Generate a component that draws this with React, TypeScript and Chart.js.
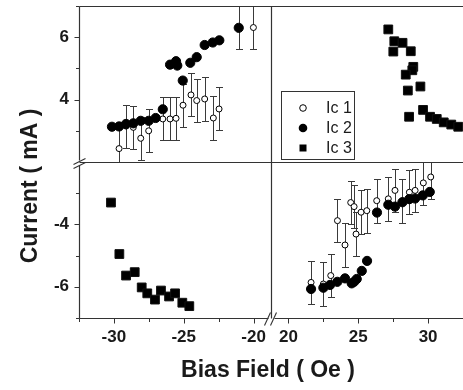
import { useEffect, useRef } from 'react';
import { Chart, registerables } from 'chart.js';

Chart.register(...registerables);

// ---------- data ----------
// Ic 1 (open circles), negative field / positive current
const ic1NegX = [-29.63, -29.13, -28.61, -28.08, -27.51, -26.5, -25.98, -25.55, -25.05, -24.48, -24.07, -23.5, -22.88, -22.47, -20.01];
const ic1PosY = [2.43, 3.15, 3.11, 2.76, 3.0, 3.38, 3.38, 3.4, 3.82, 4.15, 3.97, 4.02, 3.41, 3.7, 6.31];
const ic1NegErr = [0.69, 0.69, 0.69, 0.69, 0.69, 0.69, 0.69, 0.69, 0.69, 0.69, 0.69, 0.69, 0.69, 0.69, 0.69];
// Ic 1, positive field / negative current
const ic1PosX = [21.62, 22.5, 23.03, 23.51, 24.05, 24.46, 24.7, 24.84, 25.2, 25.61, 26.32, 27.15, 27.63, 28.16, 28.66, 29.07, 29.66, 30.19];
const ic1NegY = [-5.86, -5.91, -5.64, -3.88, -4.66, -3.3, -3.43, -4.31, -3.61, -3.56, -3.24, -3.18, -2.91, -3.24, -2.97, -2.91, -2.67, -2.48];
const ic1PosErr = [0.7, 0.7, 0.7, 0.7, 0.7, 0.7, 0.7, 0.7, 0.7, 0.7, 0.7, 0.7, 0.7, 0.7, 0.7, 0.7, 0.7, 0.7];

// Ic 2 (filled circles)
const ic2NegX = [-30.14, -29.63, -29.13, -28.61, -28.08, -27.51, -27.01, -26.5, -25.98, -25.55, -25.46, -25.07, -24.53, -24.07, -23.5, -22.92, -22.45, -21.06];
const ic2PosY = [3.13, 3.14, 3.22, 3.24, 3.32, 3.32, 3.41, 3.69, 5.12, 5.23, 5.09, 4.61, 5.18, 5.36, 5.75, 5.83, 5.9, 6.3];
const ic2NegErr = [0, 0, 0, 0, 0, 0, 0, 0, 0, 0, 0, 0, 0, 0, 0, 0, 0, 0.69];
const ic2PosX = [21.62, 22.5, 22.98, 23.5, 24.05, 24.53, 24.7, 24.89, 25.25, 25.63, 26.34, 27.15, 27.63, 28.16, 28.65, 29.07, 29.62, 30.12];
const ic2NegY = [-6.07, -6.03, -5.94, -5.84, -5.73, -5.89, -5.84, -5.75, -5.49, -5.17, -3.62, -3.37, -3.43, -3.29, -3.19, -3.17, -3.07, -2.96];

// Ic 3 (filled squares)
const ic3PosX = [27.15, 27.58, 28.17, 27.51, 28.76, 28.94, 28.87, 28.4, 28.55, 29.45, 28.64, 29.64, 30.14, 30.62, 31.12, 31.66, 32.16];
const ic3PosY = [6.25, 5.87, 5.82, 5.54, 5.55, 5.05, 4.94, 4.8, 4.29, 4.42, 3.45, 3.67, 3.45, 3.38, 3.27, 3.2, 3.13];
const ic3NegX = [-30.21, -29.61, -29.13, -28.51, -28.01, -27.61, -27.06, -26.63, -26.05, -25.62, -25.1, -24.6];
const ic3NegY = [-3.3, -4.95, -5.64, -5.53, -6.02, -6.21, -6.41, -6.12, -6.31, -6.21, -6.51, -6.62];

// axis ticks
const xNegTicks = [-30, -25, -20];
const xNegMinor = [-32.5, -27.5, -22.5];
const xPosTicks = [20, 25, 30];
const xPosMinor = [22.5, 27.5, 32.5];
const yPosTicks = [4, 6];
const yPosMinor = [3, 5, 7];
const yNegTicks = [-6, -4];
const yNegMinor = [-7, -5, -3];

const seriesLabels = ['Ic 1', 'Ic 2', 'Ic 3'];
const xTitle = 'Bias Field ( Oe )';
const yTitle = 'Current ( mA )';

const FONT = "'Liberation Sans', Arial, Helvetica, sans-serif";
const LINE = '#333';
const TEXT = '#1a1a1a';

const pts = (xs: number[], ys: number[]) => xs.map((x, i) => ({ x, y: ys[i] }));

const errorBarPlugin = {
  id: 'errorBars',
  beforeDatasetsDraw(chart: any) {
    const ctx = chart.ctx;
    chart.data.datasets.forEach((ds: any) => {
      if (!ds.errors) return;
      const xs = chart.scales[ds.xAxisID];
      const ys = chart.scales[ds.yAxisID];
      ctx.save();
      ctx.beginPath();
      ctx.rect(xs.left, ys.top, xs.right - xs.left, ys.bottom - ys.top);
      ctx.clip();
      ctx.strokeStyle = '#3a3a3a';
      ctx.lineWidth = 1;
      ds.data.forEach((p: any, j: number) => {
        const e = ds.errors[j];
        if (!e) return;
        const px = Math.round(xs.getPixelForValue(p.x)) + 0.5;
        const y1 = Math.round(ys.getPixelForValue(p.y + e)) + 0.5;
        const y2 = Math.round(ys.getPixelForValue(p.y - e)) + 0.5;
        ctx.beginPath();
        ctx.moveTo(px, y1);
        ctx.lineTo(px, y2);
        ctx.moveTo(px - 3.5, y1);
        ctx.lineTo(px + 3.5, y1);
        ctx.moveTo(px - 3.5, y2);
        ctx.lineTo(px + 3.5, y2);
        ctx.stroke();
      });
      ctx.restore();
    });
  },
};

const framePlugin = {
  id: 'frame',
  afterDraw(chart: any) {
    const { ctx, scales } = chart;
    const xL = scales.xL, xR = scales.xR, yT = scales.yT, yB = scales.yB;
    const left = Math.round(xL.left) + 0.5;
    const right = xR.right;
    const top = Math.round(yT.top) + 0.5;
    const bottom = Math.round(yB.bottom) + 0.5;
    const midX = Math.round(xL.right) + 0.5;
    const midY = Math.round(yT.bottom) + 0.5;
    const line = (a: number, b: number, c: number, d: number) => {
      ctx.beginPath();
      ctx.moveTo(a, b);
      ctx.lineTo(c, d);
      ctx.stroke();
    };
    ctx.save();
    ctx.strokeStyle = LINE;
    ctx.lineWidth = 1.2;
    // frame + dividers
    line(left, top, right, top);
    line(midX, top, midX, bottom);
    line(left, midY, right, midY);
    // left axis with break gap
    line(left, top, left, midY - 2);
    line(left, midY + 3, left, bottom);
    // bottom axis with break gap
    line(left, bottom, midX - 3, bottom);
    line(midX + 3, bottom, right, bottom);
    // break marks
    ctx.lineWidth = 1.1;
    line(left - 6, midY + 2, left + 6, midY - 4);
    line(left - 6, midY + 6, left + 6, midY);
    line(midX - 7, bottom + 7, midX - 1, bottom - 6);
    line(midX - 1, bottom + 7, midX + 5, bottom - 6);
    // ticks
    ctx.lineWidth = 1;
    const xTicks = (s: any, major: number[], minor: number[]) => {
      major.forEach((v) => { const p = Math.round(s.getPixelForValue(v)) + 0.5; line(p, bottom, p, bottom + 5); });
      minor.forEach((v) => { const p = Math.round(s.getPixelForValue(v)) + 0.5; line(p, bottom, p, bottom + 3.5); });
    };
    const yTicks = (s: any, major: number[], minor: number[]) => {
      major.forEach((v) => { const p = Math.round(s.getPixelForValue(v)) + 0.5; line(left, p, left - 5, p); });
      minor.forEach((v) => { const p = Math.round(s.getPixelForValue(v)) + 0.5; line(left, p, left - 3.5, p); });
    };
    xTicks(xL, xNegTicks, xNegMinor);
    xTicks(xR, xPosTicks, xPosMinor);
    yTicks(yT, yPosTicks, yPosMinor);
    yTicks(yB, yNegTicks, yNegMinor);

    // axis titles
    ctx.fillStyle = TEXT;
    ctx.font = `bold 23px ${FONT}`;
    ctx.textAlign = 'center';
    ctx.textBaseline = 'middle';
    ctx.fillText(xTitle, 268, 371);
    ctx.save();
    ctx.translate(31, 186);
    ctx.rotate(-Math.PI / 2);
    ctx.fillText(yTitle, 0, 0);
    ctx.restore();

    // legend
    const bx = 281, by = 91, bw = 73, bh = 68;
    ctx.fillStyle = '#fff';
    ctx.fillRect(bx, by, bw, bh);
    ctx.strokeStyle = LINE;
    ctx.lineWidth = 1;
    ctx.strokeRect(bx + 0.5, by + 0.5, bw, bh);
    const mx = 303;
    const rows = [108, 128, 148];
    ctx.beginPath();
    ctx.arc(mx, rows[0], 3.3, 0, Math.PI * 2);
    ctx.fillStyle = '#fff';
    ctx.fill();
    ctx.strokeStyle = '#000';
    ctx.stroke();
    ctx.beginPath();
    ctx.arc(mx, rows[1], 4.3, 0, Math.PI * 2);
    ctx.fillStyle = '#000';
    ctx.fill();
    ctx.fillRect(mx - 3.5, rows[2] - 3.5, 7, 7);
    ctx.fillStyle = TEXT;
    ctx.font = `16px ${FONT}`;
    ctx.textAlign = 'left';
    ctx.textBaseline = 'middle';
    seriesLabels.forEach((t, i) => ctx.fillText(t, 326, rows[i] + 1));
    ctx.restore();
  },
};

const zeroPad = (s: any) => {
  s.paddingTop = 0;
  s.paddingBottom = 0;
  s.paddingLeft = 0;
  s.paddingRight = 0;
};

export default function App() {
  const ref = useRef<HTMLCanvasElement>(null);
  useEffect(() => {
    const canvas = ref.current;
    if (!canvas) return;
    const tickFont = { family: FONT, size: 17, weight: 'bold' as const };
    const xScale = (min: number, max: number, ticks: number[]) => ({
      type: 'linear' as const,
      position: 'bottom' as const,
      stack: 'x',
      stackWeight: 1,
      min,
      max,
      grid: { display: false, drawTicks: false },
      border: { display: false },
      ticks: { font: tickFont, color: TEXT, padding: 9, maxRotation: 0, callback: (v: any) => String(v) },
      afterBuildTicks: (s: any) => { s.ticks = ticks.map((value) => ({ value })); },
      afterFit: (s: any) => { s.height = 72; zeroPad(s); },
    });
    const yScale = (min: number, max: number, ticks: number[]) => ({
      type: 'linear' as const,
      position: 'left' as const,
      stack: 'y',
      stackWeight: 1,
      min,
      max,
      grid: { display: false, drawTicks: false },
      border: { display: false },
      ticks: { font: tickFont, color: TEXT, padding: 10, callback: (v: any) => String(v) },
      afterBuildTicks: (s: any) => { s.ticks = ticks.map((value) => ({ value })); },
      afterFit: (s: any) => { s.width = 79; zeroPad(s); },
    });
    const open = { pointStyle: 'circle', pointRadius: 3, borderWidth: 1, borderColor: '#000', backgroundColor: '#fff', order: 1 };
    const filled = { pointStyle: 'circle', pointRadius: 4.6, borderWidth: 1, borderColor: '#000', backgroundColor: '#000', order: 0 };
    const square = { pointStyle: 'rect', pointRadius: 6.2, borderWidth: 1, borderColor: '#111', backgroundColor: '#000', order: 0 };
    const chart = new Chart(canvas, {
      type: 'scatter',
      data: {
        datasets: [
          { label: seriesLabels[0], data: pts(ic1NegX, ic1PosY), errors: ic1NegErr, xAxisID: 'xL', yAxisID: 'yT', ...open } as any,
          { label: seriesLabels[0], data: pts(ic1PosX, ic1NegY), errors: ic1PosErr, xAxisID: 'xR', yAxisID: 'yB', ...open } as any,
          { label: seriesLabels[1], data: pts(ic2NegX, ic2PosY), errors: ic2NegErr, xAxisID: 'xL', yAxisID: 'yT', ...filled } as any,
          { label: seriesLabels[1], data: pts(ic2PosX, ic2NegY), xAxisID: 'xR', yAxisID: 'yB', ...filled } as any,
          { label: seriesLabels[2], data: pts(ic3PosX, ic3PosY), xAxisID: 'xR', yAxisID: 'yT', ...square } as any,
          { label: seriesLabels[2], data: pts(ic3NegX, ic3NegY), xAxisID: 'xL', yAxisID: 'yB', ...square } as any,
        ],
      },
      options: {
        responsive: false,
        animation: false,
        devicePixelRatio: 1,
        layout: { autoPadding: false, padding: { top: 6, left: 0, right: 0, bottom: 0 } },
        plugins: { legend: { display: false }, tooltip: { enabled: false } },
        scales: {
          xL: xScale(-32.5, -18.75, xNegTicks),
          xR: xScale(18.75, 32.5, xPosTicks),
          yB: yScale(-7, -2, yNegTicks),
          yT: yScale(2, 7, yPosTicks),
        } as any,
      },
      plugins: [errorBarPlugin, framePlugin],
    });
    return () => chart.destroy();
  }, []);
  return (
    <div style={{ position: 'fixed', left: 0, top: 0, width: 463, height: 390, background: '#fff' }}>
      <canvas ref={ref} width={463} height={390} style={{ display: 'block', width: 463, height: 390 }} />
    </div>
  );
}
